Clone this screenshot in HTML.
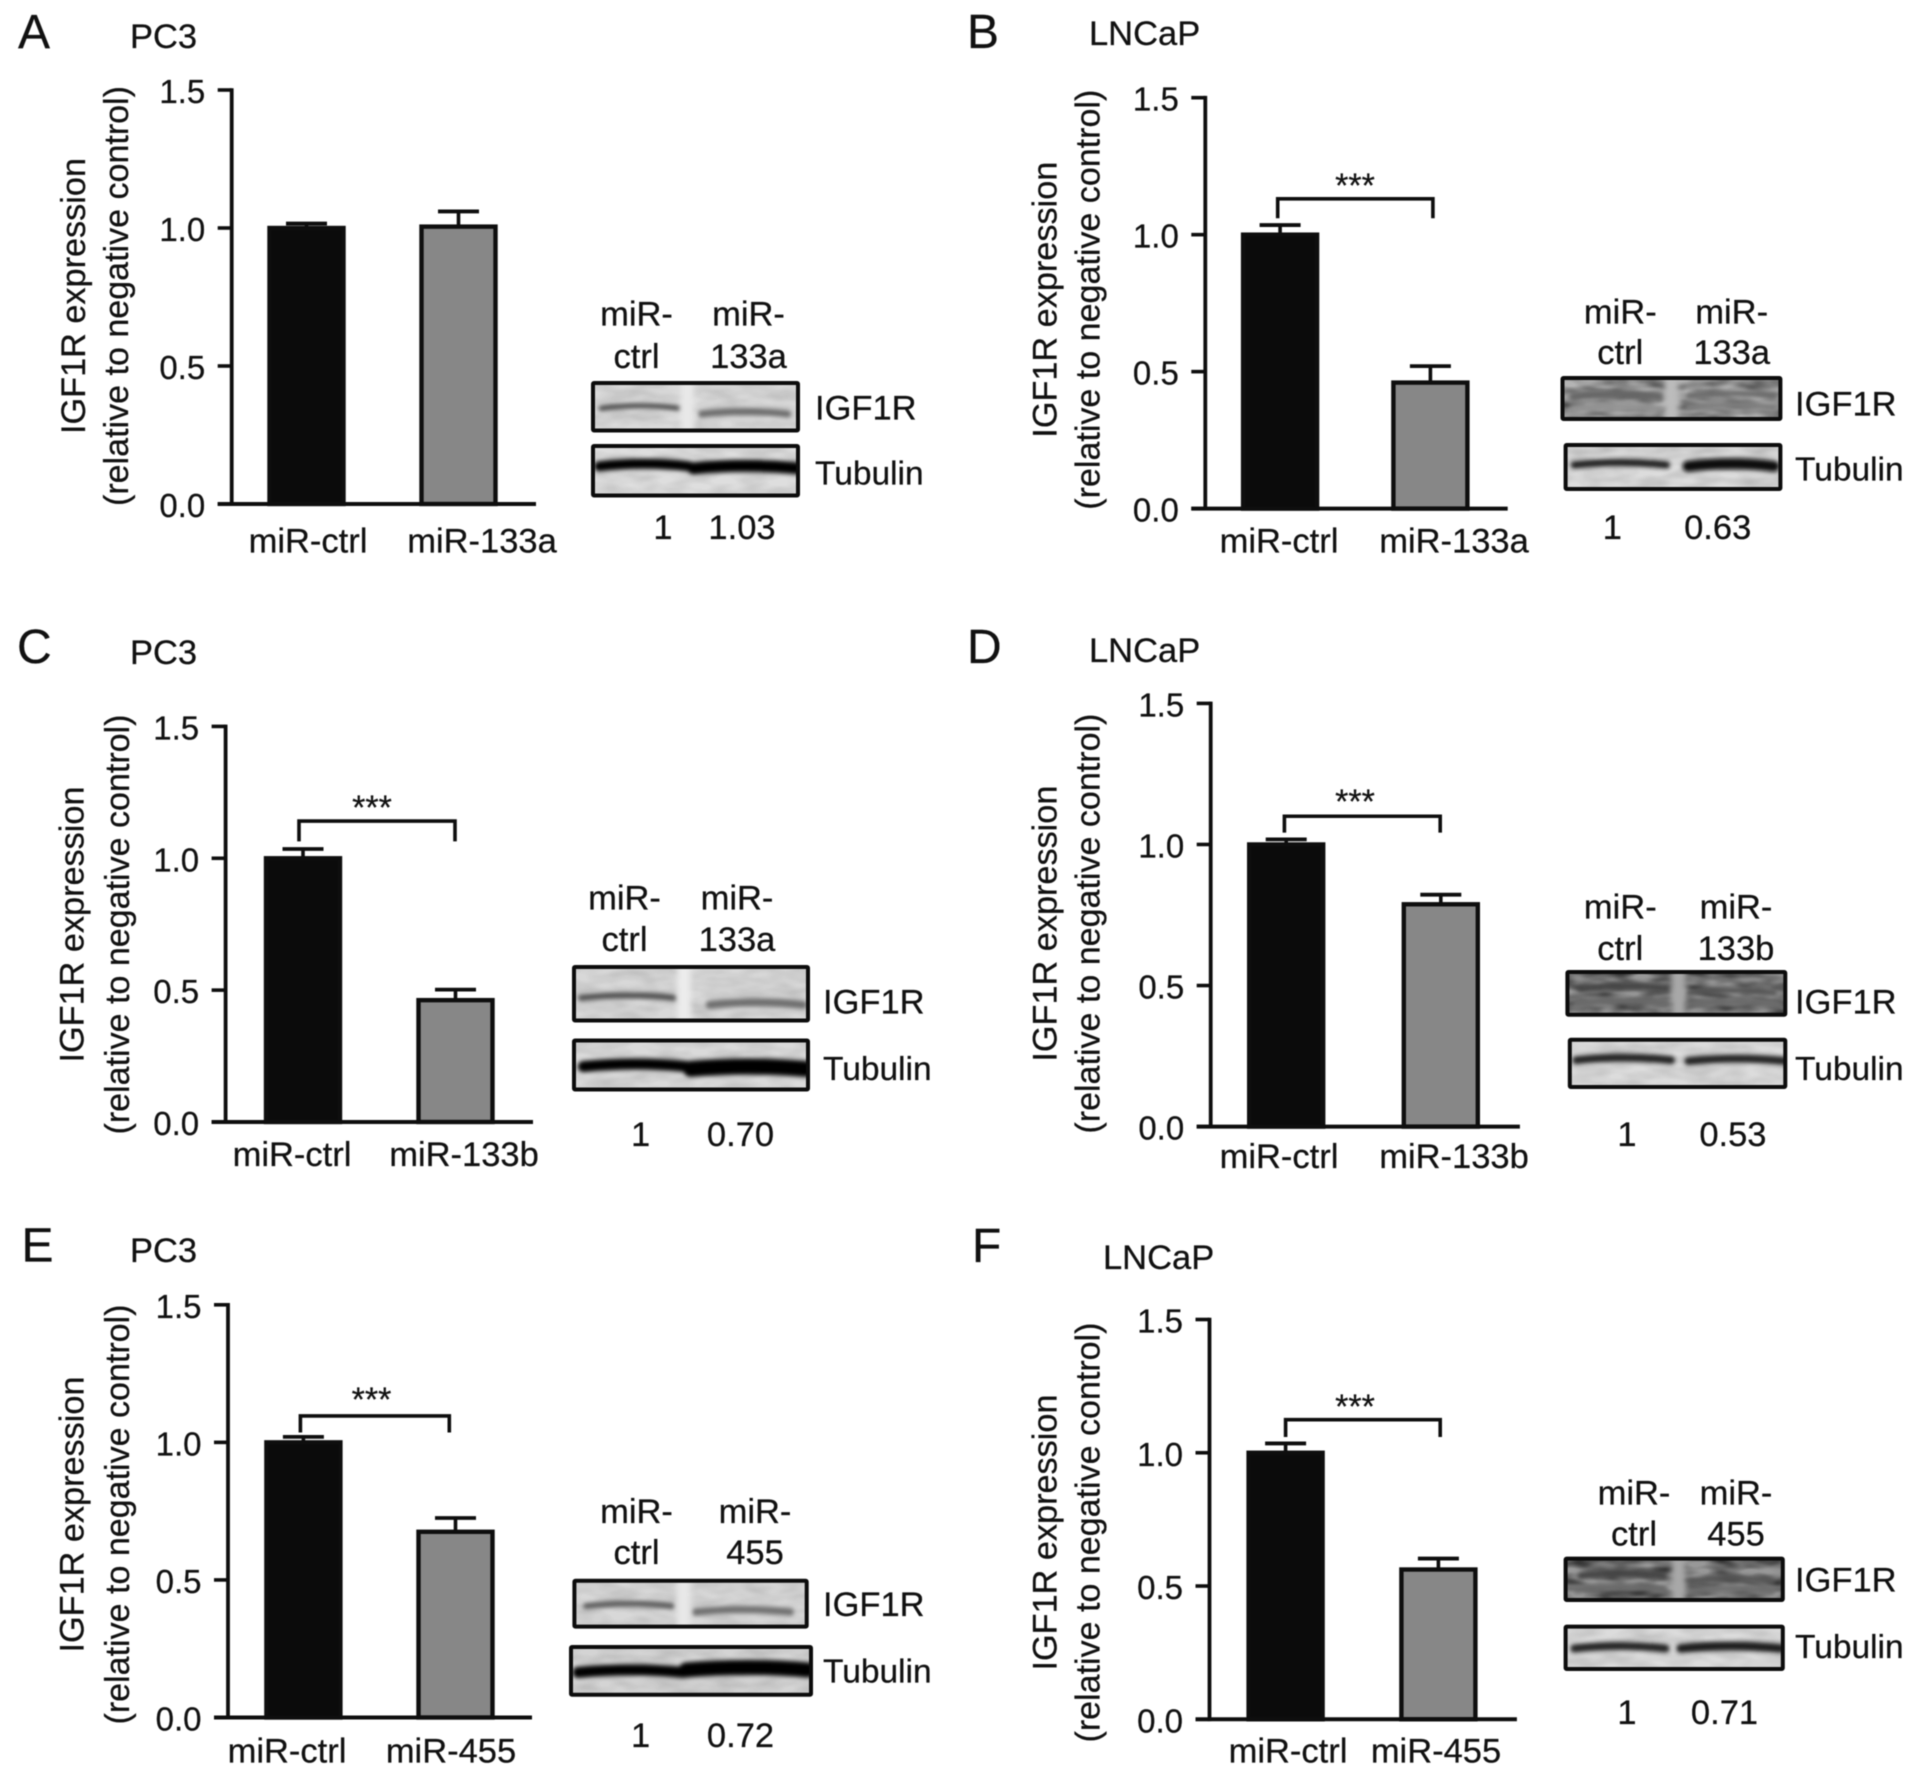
<!DOCTYPE html>
<html lang="en">
<head>
<meta charset="utf-8">
<title>IGF1R expression after miRNA transfection in PC3 and LNCaP cells</title>
<style>
html,body{margin:0;padding:0;background:#fff;}
#figure{display:block;width:1913px;height:1776px;filter:blur(0.5px);}
text{font-family:"Liberation Sans",Arial,sans-serif;fill:#111;stroke:#111;stroke-width:0.25px;}
</style>
</head>
<body>
<svg id="figure" xmlns="http://www.w3.org/2000/svg" width="1913" height="1776" viewBox="0 0 1913 1776">
<defs>
<filter id="bandBlur" filterUnits="userSpaceOnUse" x="0" y="0" width="1913" height="1776"><feGaussianBlur stdDeviation="2"/></filter>
<filter id="gapBlur" filterUnits="userSpaceOnUse" x="0" y="0" width="1913" height="1776"><feGaussianBlur stdDeviation="3"/></filter>
<filter id="mottle" x="0" y="0" width="100%" height="100%">
<feTurbulence type="fractalNoise" baseFrequency="0.035 0.09" numOctaves="2" seed="7"/>
<feColorMatrix type="matrix" values="0 0 0 0 0  0 0 0 0 0  0 0 0 0 0  1.6 0 0 0 -0.45"/>
</filter>
</defs>
</svg>
<script>
// ---- chart data ----
const tickValues = [0, 0.5, 1.0, 1.5];
const tickLabels = ['0.0', '0.5', '1.0', '1.5'];
const axisMax = 1.5;

const panelLetters = ['A', 'B', 'C', 'D', 'E', 'F'];
const cellLines = ['PC3', 'LNCaP', 'PC3', 'LNCaP', 'PC3', 'LNCaP'];

const categoriesA = ['miR-ctrl', 'miR-133a'];
const categoriesB = ['miR-ctrl', 'miR-133a'];
const categoriesC = ['miR-ctrl', 'miR-133b'];
const categoriesD = ['miR-ctrl', 'miR-133b'];
const categoriesE = ['miR-ctrl', 'miR-455'];
const categoriesF = ['miR-ctrl', 'miR-455'];

const valuesA = [1.00, 1.005];
const valuesB = [1.00, 0.46];
const valuesC = [1.00, 0.462];
const valuesD = [1.00, 0.788];
const valuesE = [1.00, 0.675];
const valuesF = [1.00, 0.562];

const errorsA = [0.016, 0.055];
const errorsB = [0.035, 0.06];
const errorsC = [0.035, 0.04];
const errorsD = [0.018, 0.034];
const errorsE = [0.02, 0.05];
const errorsF = [0.035, 0.041];

const bracketLevelsB = [1.131, 1.06];
const bracketLevelsC = [1.141, 1.064];
const bracketLevelsD = [1.10, 1.042];
const bracketLevelsE = [1.096, 1.036];
const bracketLevelsF = [1.124, 1.059];

const ratiosA = ['1', '1.03'];
const ratiosB = ['1', '0.63'];
const ratiosC = ['1', '0.70'];
const ratiosD = ['1', '0.53'];
const ratiosE = ['1', '0.72'];
const ratiosF = ['1', '0.71'];

const blotLanesA = [['miR-', 'ctrl'], ['miR-', '133a']];
const blotLanesB = [['miR-', 'ctrl'], ['miR-', '133a']];
const blotLanesC = [['miR-', 'ctrl'], ['miR-', '133a']];
const blotLanesD = [['miR-', 'ctrl'], ['miR-', '133b']];
const blotLanesE = [['miR-', 'ctrl'], ['miR-', '455']];
const blotLanesF = [['miR-', 'ctrl'], ['miR-', '455']];

const yTitleLine1 = 'IGF1R expression';
const yTitleLine2 = '(relative to negative control)';
const blotTargets = ['IGF1R', 'Tubulin'];
const starText = '***';

// ---- layout of each panel (geometry only) ----
const layouts = [
 {cats:categoriesA, vals:valuesA, errs:errorsA, br:null, ratios:ratiosA, lanes:blotLanesA,
  axisX:231.7, yTop:90, yBase:504, xEnd:536, centers:[306.5,458.5],
  letter:[18,48], line:[130,48], titleX:[85,128], titleY:296, xLabelX:[308,482], xLabelY:552.5,
  brX:null, starX:0, starY:0,
  laneX:[636.5,748.5], laneY:[325.5,368],
  boxTop:[593,383,798,430.5], boxBot:[593,446,798,495.5], tgtX:815, tgtY:[419.5,484.5],
  ratioX:[663,742], ratioY:539, mottle:[.12,.12],
  bgTop:'#dadada', bgBot:'#dedede', gap:[.46,'#e8e8e8'],
  bandsTop:[[.04,.42,.5,5,'#4a4a4a'],[.53,.95,.62,7,'#6c6c6c']],
  bandsBot:[[.03,.47,.38,10,'#000000'],[.49,1,.42,12,'#000000']]},
 {cats:categoriesB, vals:valuesB, errs:errorsB, br:bracketLevelsB, ratios:ratiosB, lanes:blotLanesB,
  axisX:1205.3, yTop:97.7, yBase:508.6, xEnd:1507.7, centers:[1280.1,1430.4],
  letter:[967,48], line:[1089,45], titleX:[1056.5,1099.5], titleY:299.7, xLabelX:[1279,1454], xLabelY:552.5,
  brX:[1277.7,1432.9], starX:1355, starY:184,
  laneX:[1620.3,1731.7], laneY:[323.6,364],
  boxTop:[1562.5,378,1780.4,419], boxBot:[1565.6,445,1780.4,489], tgtX:1795, tgtY:[415.5,480.6],
  ratioX:[1612.4,1717.7], ratioY:539, mottle:[.6,.15],
  bgTop:'#b4b4b4', bgBot:'#dcdcdc', gap:[.5,'#bcbcbc'],
  bandsTop:[[.05,.45,.42,8,'#666666'],[.58,.97,.4,6,'#6b6b6b'],[.58,.97,.68,7,'#7e7e7e'],[.05,.45,.72,6,'#929292']],
  bandsBot:[[.04,.47,.42,7,'#1e1e1e'],[.57,.97,.45,11,'#080808']]},
 {cats:categoriesC, vals:valuesC, errs:errorsC, br:bracketLevelsC, ratios:ratiosC, lanes:blotLanesC,
  axisX:225.6, yTop:726.4, yBase:1122, xEnd:533, centers:[303,455.5],
  letter:[17,663], line:[130,664], titleX:[83.6,129], titleY:924.5, xLabelX:[292,464], xLabelY:1166,
  brX:[299,455], starX:372, starY:806,
  laneX:[624.5,737], laneY:[909.5,951],
  boxTop:[574,967,808,1020.5], boxBot:[574,1040.5,808,1089.5], tgtX:823, tgtY:[1013.6,1080],
  ratioX:[640.6,740.5], ratioY:1145.8, mottle:[.12,.12],
  bgTop:'#d8d8d8', bgBot:'#dadada', gap:[.47,'#ececec'],
  bandsTop:[[.03,.43,.55,6,'#4e4e4e'],[.58,.98,.68,8,'#6e6e6e']],
  bandsBot:[[.04,.48,.5,11,'#000000'],[.5,.99,.55,16,'#000000']]},
 {cats:categoriesD, vals:valuesD, errs:errorsD, br:bracketLevelsD, ratios:ratiosD, lanes:blotLanesD,
  axisX:1210.7, yTop:703.4, yBase:1126.6, xEnd:1519.9, centers:[1286.2,1440.8],
  letter:[967,663], line:[1089,662], titleX:[1056.5,1099.5], titleY:923.6, xLabelX:[1279,1454], xLabelY:1168,
  brX:[1284.4,1440.2], starX:1355, starY:800,
  laneX:[1620.3,1736], laneY:[918.7,960],
  boxTop:[1567.4,972,1785.3,1014.8], boxBot:[1569.8,1039.7,1785.3,1087], tgtX:1795, tgtY:[1013.6,1080],
  ratioX:[1627,1732.9], ratioY:1145.8, mottle:[.75,.12],
  bgTop:'#989898', bgBot:'#dcdcdc', gap:[.51,'#a8a8a8'],
  bandsTop:[[.06,.46,.35,7,'#444444'],[.55,.95,.45,6,'#555555'],[.05,.45,.7,7,'#6a6a6a'],[.55,.95,.72,7,'#6a6a6a']],
  bandsBot:[[.03,.47,.4,8,'#222222'],[.55,1,.42,8,'#222222']]},
 {cats:categoriesE, vals:valuesE, errs:errorsE, br:bracketLevelsE, ratios:ratiosE, lanes:blotLanesE,
  axisX:228, yTop:1304.8, yBase:1717.5, xEnd:532, centers:[303.4,455.5],
  letter:[21.5,1261.4], line:[130,1261.8], titleX:[83.6,129], titleY:1514.5, xLabelX:[287,451], xLabelY:1762.7,
  brX:[300.4,449.3], starX:371.5, starY:1398,
  laneX:[636.5,755], laneY:[1523,1564],
  boxTop:[574.4,1580.7,806.7,1626.6], boxBot:[571,1647,811,1694.7], tgtX:823, tgtY:[1616,1682.5],
  ratioX:[640.6,740.5], ratioY:1747, mottle:[.12,.12],
  bgTop:'#d8d8d8', bgBot:'#d4d4d4', gap:[.47,'#e8e8e8'],
  bandsTop:[[.05,.42,.52,6,'#5c5c5c'],[.52,.93,.65,7,'#6e6e6e']],
  bandsBot:[[.03,.47,.5,11,'#000000'],[.48,.99,.45,15,'#000000']]},
 {cats:categoriesF, vals:valuesF, errs:errorsF, br:bracketLevelsF, ratios:ratiosF, lanes:blotLanesF,
  axisX:1209.5, yTop:1319.5, yBase:1719.3, xEnd:1516.9, centers:[1285.6,1438.4],
  letter:[972,1261.8], line:[1103,1269], titleX:[1056.5,1099.5], titleY:1532.5, xLabelX:[1288,1436], xLabelY:1762.7,
  brX:[1285.6,1440.2], starX:1355, starY:1405,
  laneX:[1634,1736], laneY:[1504.5,1545.7],
  boxTop:[1565.6,1558.6,1782.8,1600], boxBot:[1565.6,1626.6,1782.8,1669], tgtX:1795, tgtY:[1591.7,1658],
  ratioX:[1627,1724.5], ratioY:1724, mottle:[.75,.12],
  bgTop:'#989898', bgBot:'#dcdcdc', gap:[.52,'#a8a8a8'],
  bandsTop:[[.07,.45,.38,7,'#444444'],[.58,.95,.5,6,'#555555'],[.05,.45,.72,7,'#6a6a6a'],[.55,.95,.75,7,'#6e6e6e']],
  bandsBot:[[.04,.46,.48,8,'#222222'],[.53,.99,.48,9,'#1a1a1a']]}
];

const SVGNS = 'http://www.w3.org/2000/svg';
const root = document.getElementById('figure');
const FS = 34.5;
const TICK_FS = 33;
const TARGET_FS = [34.5, 33.5];
const INK = '#0e0e0e';

function make(parent, tag, attrs) {
  const el = document.createElementNS(SVGNS, tag);
  for (const k in attrs) el.setAttribute(k, attrs[k]);
  parent.appendChild(el);
  return el;
}
function label(parent, x, y, str, size, anchor) {
  const el = make(parent, 'text', {x: x, y: y, 'font-size': size, 'text-anchor': anchor});
  el.textContent = str;
  return el;
}
function line(parent, x1, y1, x2, y2, w) {
  return make(parent, 'line', {x1: x1, y1: y1, x2: x2, y2: y2, stroke: INK, 'stroke-width': w});
}

function drawBlot(group, L, box, bg, bands, clipId, showGap, mottleLevel) {
  const clip = make(root.querySelector('defs'), 'clipPath', {id: clipId});
  make(clip, 'rect', {x: box[0], y: box[1], width: box[2] - box[0], height: box[3] - box[1]});
  const inner = make(group, 'g', {'clip-path': 'url(#' + clipId + ')'});
  const w = box[2] - box[0], h = box[3] - box[1];
  make(inner, 'rect', {x: box[0], y: box[1], width: w, height: h, fill: bg});
  make(inner, 'rect', {x: box[0], y: box[1], width: w, height: h, filter: 'url(#mottle)', opacity: mottleLevel});
  const bandLayer = make(inner, 'g', {filter: 'url(#bandBlur)'});
  bands.forEach(function (b) {
    const x0 = box[0] + b[0] * w, x1 = box[0] + b[1] * w, y = box[1] + b[2] * h;
    const d = 'M' + x0 + ' ' + (y + 1.5) + ' Q' + ((x0 + x1) / 2) + ' ' + (y - 3.5) + ' ' + x1 + ' ' + (y + 1.5);
    const band = make(bandLayer, 'path', {d: d, fill: 'none', stroke: b[4], 'stroke-width': b[3], 'stroke-linecap': 'round'});
    
    
  });
  if (showGap) {
    const gx = box[0] + L.gap[0] * w;
    make(inner, 'rect', {x: gx - 7, y: box[1] - 10, width: 14, height: h + 20, fill: L.gap[1], filter: 'url(#gapBlur)'});
  }
  const frame = make(group, 'rect', {x: box[0], y: box[1], width: w, height: h, fill: 'none', stroke: '#0c0c0c', 'stroke-width': 4, rx: 1});
  
  
}

layouts.forEach(function (L, p) {
  const id = panelLetters[p].toLowerCase();
  const yScale = function (v) { return L.yBase - (v / axisMax) * (L.yBase - L.yTop); };
  const xScale = function (i) { return L.centers[i]; };

  const g = make(root, 'g', {});
  
  

  const letter = label(g, L.letter[0], L.letter[1], panelLetters[p], 48, 'start');
  
  

  const cell = label(g, L.line[0], L.line[1], cellLines[p], FS, 'start');
  
  

  // y-axis title
  const t1 = make(g, 'text', {'font-size': FS, 'text-anchor': 'middle', textLength: 276, lengthAdjust: 'spacingAndGlyphs',
    transform: 'translate(' + L.titleX[0] + ' ' + L.titleY + ') rotate(-90)'});
  t1.textContent = yTitleLine1;
  
  

  const t2 = make(g, 'text', {'font-size': FS, 'text-anchor': 'middle', textLength: 420, lengthAdjust: 'spacingAndGlyphs',
    transform: 'translate(' + L.titleX[1] + ' ' + L.titleY + ') rotate(-90)'});
  t2.textContent = yTitleLine2;
  
  

  // bars and error bars
  L.vals.forEach(function (v, i) {
    const cx = xScale(i), top = yScale(v), errTop = yScale(v + L.errs[i]);
    const stem = line(g, cx, top, cx, errTop, 3.6);
    
    

    const cap = line(g, cx - 20.5, errTop, cx + 20.5, errTop, 3.8);
    
    

    const bar = make(g, 'rect', {x: cx - 37, y: top, width: 74, height: L.yBase - top,
      fill: i === 0 ? '#0b0b0b' : '#878787', stroke: INK, 'stroke-width': 4.4});
    
    

    const xl = label(g, L.xLabelX[i], L.xLabelY, L.cats[i], FS, 'middle');
    
    
  });

  // axes
  const yAxis = line(g, L.axisX, yScale(axisMax) - 1.8, L.axisX, L.yBase + 1.8, 3.8);
  
  

  const xAxis = line(g, L.axisX - 14, L.yBase, L.xEnd, L.yBase, 4);
  
  

  tickValues.forEach(function (tv, i) {
    const ty = yScale(tv);
    const tick = line(g, L.axisX - 14, ty, L.axisX, ty, 3.6);
    
    

    const tl = label(g, L.axisX - 26.5, ty + 13, tickLabels[i], TICK_FS, 'end');
    
    
  });

  // significance bracket
  if (L.br) {
    const by = yScale(L.br[0]), lg = yScale(L.br[1]);
    const path = make(g, 'path', {d: 'M' + L.brX[0] + ' ' + lg + ' V' + by + ' H' + L.brX[1] + ' V' + lg, fill: 'none', stroke: INK, 'stroke-width': 3.6});
    
    

    const stars = label(g, L.starX, L.starY + 13, starText, 34, 'middle');
    
    
  }

  // western blot
  const blot = make(g, 'g', {});
  
  

  L.lanes.forEach(function (lane, i) {
    lane.forEach(function (str, row) {
      const ll = label(blot, L.laneX[i], L.laneY[row], str, FS, 'middle');
      
      
    });
    const ratio = label(blot, L.ratioX[i], L.ratioY, L.ratios[i], FS, 'middle');
    
    
  });

  drawBlot(blot, L, L.boxTop, L.bgTop, L.bandsTop, 'clip-top-' + id, true, L.mottle[0]);
  drawBlot(blot, L, L.boxBot, L.bgBot, L.bandsBot, 'clip-bot-' + id, false, L.mottle[1]);

  blotTargets.forEach(function (str, i) {
    const tg = label(blot, L.tgtX, L.tgtY[i], str, TARGET_FS[i], 'start');
    
    
  });
});
</script>
</body>
</html>
